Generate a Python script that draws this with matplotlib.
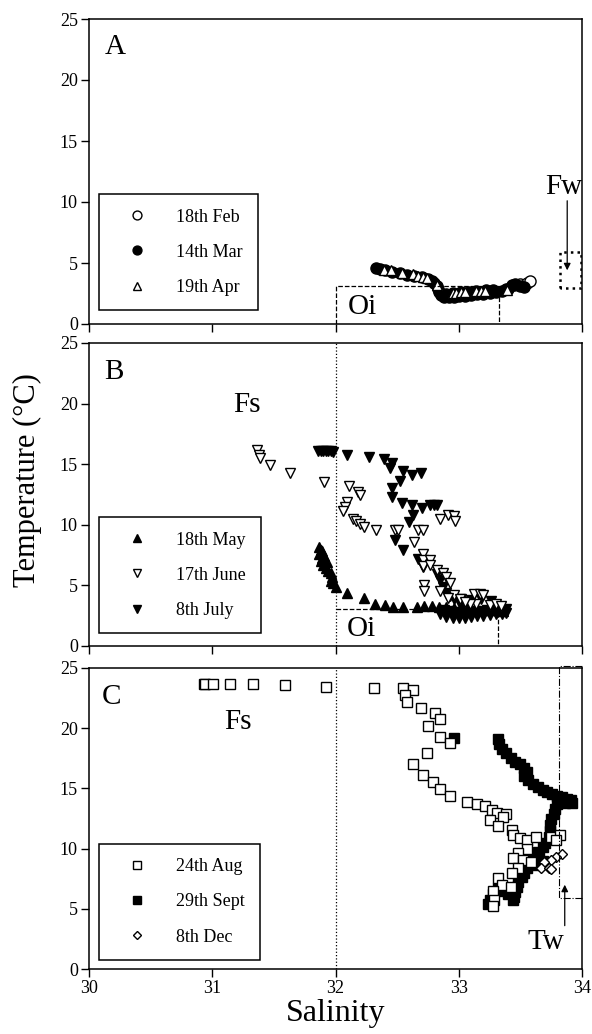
import matplotlib
matplotlib.use("Agg")
import matplotlib.pyplot as plt

plt.rcParams['font.family'] = ['Liberation Serif', 'DejaVu Serif']

# ---- panel A: 18th Feb, 14th Mar, 19th Apr ----
feb_sal = [33.45, 33.50, 33.55, 33.58]
feb_t = [3.2, 3.3, 3.4, 3.5]

mar_sal = [32.33, 32.36, 32.40, 32.46, 32.52, 32.58, 32.64, 32.70, 32.75, 32.78,
           32.80, 32.82, 32.83, 32.84, 32.86, 32.88, 32.92, 32.96, 33.00, 33.05,
           33.10, 33.15, 33.20, 33.25, 33.30, 33.35, 33.40, 33.43, 33.46, 33.50, 33.53,
           32.90, 32.95, 33.02, 33.08, 33.14, 33.22, 33.28, 33.38]
mar_t = [4.6, 4.5, 4.4, 4.3, 4.2, 4.05, 3.95, 3.85, 3.7, 3.55,
         3.35, 3.1, 2.85, 2.6, 2.4, 2.25, 2.2, 2.22, 2.26, 2.32,
         2.38, 2.44, 2.5, 2.56, 2.62, 2.72, 2.9, 3.2, 3.3, 3.1, 3.0,
         2.5, 2.55, 2.6, 2.65, 2.7, 2.75, 2.8, 2.85]

apr_sal = [32.39, 32.45, 32.54, 32.63, 32.67, 32.71, 32.74, 32.82, 32.95, 32.98,
           33.02, 33.05, 33.14, 33.18, 33.21, 33.39]
apr_t = [4.45, 4.43, 4.2, 4.07, 3.95, 3.85, 3.75, 3.2, 2.55, 2.55,
         2.6, 2.6, 2.7, 2.72, 2.72, 2.8]

# ---- panel B: 18th May, 17th June, 8th July ----
may_sal = [31.87, 31.88, 31.87, 31.89, 31.88, 31.90, 31.92, 31.94, 31.96, 31.97,
           31.96, 31.98, 32.00, 32.09, 32.23, 32.32, 32.40, 32.47, 32.55, 32.66,
           32.72, 32.78, 32.84, 32.90, 32.96, 33.02, 33.08, 33.14, 33.20, 33.26,
           33.32, 33.36, 31.89, 31.91, 31.93]
may_t = [8.2, 7.9, 7.6, 7.3, 7.0, 6.7, 6.4, 6.2, 6.0, 5.7,
         5.4, 5.2, 4.9, 4.4, 3.95, 3.5, 3.35, 3.25, 3.25, 3.25,
         3.3, 3.3, 3.25, 3.2, 3.15, 3.1, 3.05, 3.0, 3.0, 2.95,
         2.95, 2.9, 7.8, 7.4, 6.9]

jun_sal = [31.36, 31.38, 31.39, 31.47, 31.63, 31.91, 32.11, 32.18, 32.20, 32.09,
           32.08, 32.06, 32.14, 32.17, 32.20, 32.23, 32.33, 32.48, 32.51, 32.67,
           32.71, 32.64, 32.71, 32.71, 32.71, 32.77, 32.77, 32.72, 32.72, 32.85,
           32.91, 32.96, 32.97, 32.82, 32.87, 32.90, 32.93, 32.85, 32.96, 33.01,
           33.12, 33.17, 33.20, 33.14, 33.25, 33.09, 32.91, 33.05, 33.30, 33.34]
jun_t = [16.2, 15.8, 15.5, 14.9, 14.3, 13.5, 13.2, 12.7, 12.5, 11.9,
         11.5, 11.1, 10.5, 10.3, 10.1, 9.8, 9.6, 9.6, 9.6, 9.6,
         9.6, 8.6, 7.6, 7.1, 6.6, 7.1, 6.7, 5.0, 4.5, 10.5,
         10.8, 10.7, 10.3, 6.3, 6.0, 5.7, 5.2, 4.5, 4.2, 3.9,
         4.3, 4.3, 4.2, 3.5, 3.4, 3.5, 4.0, 3.6, 3.5, 3.3]

jul_sal = [31.86, 31.88, 31.90, 31.92, 31.94, 31.96, 31.98, 32.09, 32.27, 32.39,
           32.46, 32.44, 32.55, 32.62, 32.69, 32.52, 32.46, 32.46, 32.54, 32.62,
           32.70, 32.77, 32.80, 32.82, 32.63, 32.60, 32.48, 32.55, 32.67, 32.70,
           32.71, 32.82, 32.85, 32.87, 32.90, 32.93, 32.96, 33.00, 33.05, 32.85,
           32.90, 32.95, 33.00, 33.05, 33.10, 33.15, 33.20, 33.25, 33.30, 33.35,
           33.38, 32.88, 32.93, 32.98, 33.03, 33.08, 33.13, 33.18, 33.23, 33.28,
           33.33, 33.38, 33.02, 33.10, 33.18, 33.26]
jul_t = [16.1, 16.1, 16.1, 16.1, 16.1, 16.1, 16.0, 15.8, 15.6, 15.4,
         15.1, 14.7, 14.4, 14.1, 14.25, 13.6, 13.0, 12.3, 11.8, 11.6,
         11.4, 11.6, 11.6, 11.6, 10.8, 10.2, 8.75, 7.9, 7.2, 6.8,
         6.55, 5.9, 5.45, 4.9, 4.35, 4.1, 3.9, 3.6, 3.4, 2.6,
         2.4, 2.3, 2.3, 2.35, 2.4, 2.45, 2.5, 2.55, 2.6, 2.65,
         2.7, 2.95, 2.85, 2.8, 2.8, 2.85, 2.9, 2.9, 2.95, 3.0,
         3.0, 3.05, 3.9, 3.8, 3.85, 3.7]

# ---- panel C: 24th Aug, 29th Sept, 8th Dec ----
aug_sal = [30.94, 31.01, 31.14, 31.33, 31.59, 31.92, 32.31, 32.55, 32.63, 32.56,
           32.58, 32.69, 32.81, 32.85, 32.75, 32.85, 32.93, 32.74, 32.63, 32.71,
           32.79, 32.85, 32.93, 33.07, 33.15, 33.21, 33.27, 33.31, 33.38, 33.36,
           33.25, 33.32, 33.43, 33.44, 33.50, 33.55, 33.63, 33.75, 33.82, 33.79,
           33.55, 33.48, 33.44, 33.52, 33.59, 33.48, 33.43, 33.32, 33.35, 33.28,
           33.29, 33.28, 33.42]
aug_t = [23.7, 23.7, 23.7, 23.65, 23.55, 23.4, 23.3, 23.3, 23.2, 22.75,
         22.2, 21.65, 21.25, 20.8, 20.2, 19.3, 18.75, 17.95, 17.05, 16.1,
         15.55, 14.95, 14.35, 13.9, 13.7, 13.5, 13.2, 12.95, 12.9, 12.65,
         12.4, 11.9, 11.55, 11.1, 10.85, 10.7, 11.0, 11.0, 11.1, 10.75,
         10.0, 9.6, 9.2, 9.05, 8.9, 8.35, 7.95, 7.55, 7.0, 6.45,
         5.75, 5.2, 6.85]

sep_sal = [30.93, 32.96, 33.32, 33.33, 33.35, 33.38, 33.42, 33.46, 33.50, 33.53,
           33.55, 33.53, 33.56, 33.60, 33.64, 33.68, 33.72, 33.76, 33.80, 33.84,
           33.88, 33.91, 33.92, 33.86, 33.80, 33.78, 33.77, 33.75, 33.74, 33.74,
           33.73, 33.70, 33.68, 33.64, 33.60, 33.57, 33.55, 33.53, 33.51, 33.48,
           33.47, 33.46, 33.45, 33.44, 33.40, 33.36, 33.32, 33.28, 33.25, 33.24,
           33.65, 33.68, 33.62]
sep_t = [23.7, 19.2, 19.1, 18.7, 18.3, 17.9, 17.5, 17.2, 17.0, 16.7,
         16.4, 16.0, 15.7, 15.4, 15.1, 14.9, 14.7, 14.5, 14.35, 14.25,
         14.15, 14.0, 13.8, 13.75, 13.7, 13.3, 12.9, 12.5, 12.0, 11.5,
         11.0, 10.5, 10.1, 9.7, 9.3, 8.9, 8.4, 8.0, 7.6, 7.2,
         6.8, 6.4, 6.0, 5.7, 6.2, 6.5, 6.7, 6.2, 5.7, 5.4,
         9.5, 9.0, 8.6]

dec_sal = [33.84, 33.79, 33.75, 33.69, 33.67, 33.73, 33.75]
dec_t = [9.56, 9.33, 9.06, 8.92, 8.37, 8.37, 8.28]

fig = plt.figure(figsize=(5.92, 10.34), dpi=100)
left, width = 89 / 592, 493 / 592
axA = fig.add_axes([left, 1 - 324 / 1034, width, 305 / 1034])
axB = fig.add_axes([left, 1 - 646 / 1034, width, 303 / 1034])
axC = fig.add_axes([left, 1 - 969 / 1034, width, 301 / 1034])

ms = 7
mew = 1.0


def style(ax, show_x):
    ax.set_xlim(30, 34)
    ax.set_ylim(0, 25)
    ax.set_xticks([30, 31, 32, 33, 34])
    ax.set_yticks([0, 5, 10, 15, 20, 25])
    ax.tick_params(direction='out', length=6, width=1, labelsize=13,
                   top=False, right=False, pad=2)
    if not show_x:
        ax.tick_params(labelbottom=False)
    for s in ax.spines.values():
        s.set_linewidth(1.1)


def add_legend(ax, handles, labels, y0):
    leg = ax.legend(handles, labels, loc='lower left', bbox_to_anchor=(0.02, y0),
                    borderaxespad=0, fontsize=13, frameon=True, fancybox=False,
                    edgecolor='black', framealpha=1, borderpad=0.8,
                    handlelength=2.6, handletextpad=0.9, labelspacing=1.0,
                    numpoints=1, markerscale=0.8)
    leg.get_frame().set_linewidth(1.1)


# panel A
style(axA, False)
hf, = axA.plot(feb_sal, feb_t, 'o', ls='none', ms=ms + 1, mfc='white', mec='black', mew=mew)
hm, = axA.plot(mar_sal, mar_t, 'o', ls='none', ms=ms + 1, mfc='black', mec='black', mew=mew)
ha, = axA.plot(apr_sal, apr_t, '^', ls='none', ms=ms, mfc='white', mec='black', mew=mew)
axA.plot([32, 32, 33.33, 33.33], [0, 3.08, 3.08, 0], ls='--', color='black', lw=0.9)
axA.plot([33.82, 33.82, 33.99, 33.99, 33.82], [2.95, 5.9, 5.9, 2.95, 2.95],
         ls=':', color='black', lw=1.8)
axA.annotate('', xy=(33.88, 4.4), xytext=(33.88, 10.1),
             arrowprops=dict(arrowstyle='-|>', color='black', lw=0.9,
                             mutation_scale=10, shrinkA=0, shrinkB=0))
axA.text(30.13, 22.7, 'A', fontsize=21, va='center', ha='left')
axA.text(33.70, 11.2, 'Fw', fontsize=21, va='center', ha='left')
axA.text(32.1, 1.4, 'Oi', fontsize=21, va='center', ha='left')
add_legend(axA, [hf, hm, ha], ['18th Feb', '14th Mar', '19th Apr'], 0.045)

# panel B
style(axB, False)
axB.axvline(32, ls=':', color='black', lw=0.9)
hy, = axB.plot(may_sal, may_t, '^', ls='none', ms=ms, mfc='black', mec='black', mew=mew)
hl, = axB.plot(jul_sal, jul_t, 'v', ls='none', ms=ms, mfc='black', mec='black', mew=mew)
hj, = axB.plot(jun_sal, jun_t, 'v', ls='none', ms=ms, mfc='white', mec='black', mew=mew)
axB.plot([32, 33.32, 33.32], [3.03, 3.03, 0], ls='--', color='black', lw=0.9)
axB.text(30.12, 22.6, 'B', fontsize=21, va='center', ha='left')
axB.text(31.17, 19.9, 'Fs', fontsize=21, va='center', ha='left')
axB.text(32.09, 1.4, 'Oi', fontsize=21, va='center', ha='left')
add_legend(axB, [hy, hj, hl], ['18th May', '17th June', '8th July'], 0.042)

# panel C
style(axC, True)
axC.axvline(32, ls=':', color='black', lw=0.9)
hs, = axC.plot(sep_sal, sep_t, 's', ls='none', ms=ms - 0.5, mfc='black', mec='black', mew=mew)
hg, = axC.plot(aug_sal, aug_t, 's', ls='none', ms=ms - 0.5, mfc='white', mec='black', mew=mew)
hd, = axC.plot(dec_sal, dec_t, 'D', ls='none', ms=ms - 2, mfc='white', mec='black', mew=mew)
axC.plot([34.0, 33.81, 33.81, 34.0], [25.2, 25.2, 5.93, 5.93], ls='-.', color='black',
         lw=0.8, clip_on=False)
axC.annotate('', xy=(33.86, 7.0), xytext=(33.86, 3.6),
             arrowprops=dict(arrowstyle='-|>', color='black', lw=0.9,
                             mutation_scale=10, shrinkA=0, shrinkB=0))
axC.text(30.1, 22.6, 'C', fontsize=21, va='center', ha='left')
axC.text(31.1, 20.55, 'Fs', fontsize=21, va='center', ha='left')
axC.text(33.56, 2.27, 'Tw', fontsize=21, va='center', ha='left')
add_legend(axC, [hg, hs, hd], ['24th Aug', '29th Sept', '8th Dec'], 0.03)

fig.text(0.047, 1 - 480 / 1034, 'Temperature (°C)', rotation=90, fontsize=22,
         ha='center', va='center')
fig.text(335.5 / 592, 1 - 1013 / 1034, 'Salinity', fontsize=23, ha='center', va='center')

fig.savefig('out.png', dpi=100)
